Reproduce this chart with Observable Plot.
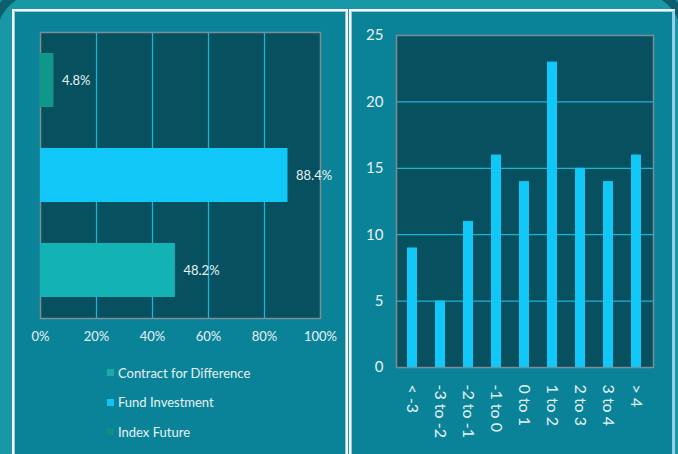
<!DOCTYPE html>
<html>
<head>
<meta charset="utf-8">
<script src="https://cdn.jsdelivr.net/npm/d3@7"></script>
<script src="https://cdn.jsdelivr.net/npm/@observablehq/plot@0.6"></script>
<style>
  html, body { margin: 0; padding: 0; }
  body { width: 678px; height: 454px; overflow: hidden; position: relative; background: #1898a6; font-family: Lato, "Open Sans", sans-serif; }
  .arc { position: absolute; border: 9px solid #0d5f6e; width: 800px; height: 800px; }
  .arc.tl { left: -12px; top: -16px; border-top-left-radius: 52px; }
  .arc.tr { right: -12px; top: -16px; border-top-right-radius: 52px; }
  .panel { position: absolute; top: 9px; height: 470px; background: #0a8399; border: 2px solid #f3f7f9; box-shadow: inset 0 0 0 1px #9fc4dc; box-sizing: border-box; }
  #pl { left: 12px; width: 336px; }
  #pr { left: 349px; width: 326px; border-right-color: #8fd3ee; }
  .chart { position: absolute; }
  #left { left: 14px; top: 11px; }
  #right { left: 351px; top: 11px; }
  #legend { position: absolute; left: 107px; top: 358px; color: #e6f2f4; font-size: 13px; }
  #legend .row { height: 29.5px; display: flex; align-items: center; }
  #legend .sw { width: 7px; height: 7px; margin-right: 4px; }
</style>
</head>
<body>
<div class="arc tl"></div>
<div class="arc tr"></div>
<div class="panel" id="pl"></div>
<div class="panel" id="pr"></div>
<div class="chart" id="left"></div>
<div id="legend"></div>
<div class="chart" id="right"></div>
<script>
// Left chart: product shares
const products = ["Contract for Difference", "Fund Investment", "Index Future"];
const shares = [48.2, 88.4, 4.8];
const productColors = ["#13b2b4", "#10c7f7", "#0f978b"];
const legendColors = ["#1aa9a8", "#12c4f3", "#128b80"];
const shareTicks = [0, 20, 40, 60, 80, 100];

// Right chart: distribution
const bins = ["< -3", "-3 to -2", "-2 to -1", "-1 to 0", "0 to 1", "1 to 2", "2 to 3", "3 to 4", "> 4"];
const counts = [9, 5, 11, 16, 14, 23, 15, 14, 16];
const countTicks = [0, 5, 10, 15, 20, 25];

const txt = "#e6f2f4";
const plotBg = "#06505f";
const grid = "#1fb3d6";
const frameC = "#7b8e95";

const shareData = products.map((p, i) => ({product: p, value: shares[i], color: productColors[i]}));

const left = Plot.plot({
  width: 331, height: 345,
  marginLeft: 26, marginRight: 25, marginTop: 21, marginBottom: 38,
  style: {background: "transparent", color: txt, fontFamily: "Lato, 'Open Sans', sans-serif", fontSize: "13px"},
  x: {domain: [0, 100], ticks: shareTicks, tickFormat: d => d + "%", tickSize: 0, tickPadding: 13, label: null},
  y: {domain: products.slice().reverse(), paddingInner: 0.43, paddingOuter: 0.215, axis: null},
  color: {type: "identity"},
  marks: [
    Plot.frame({fill: plotBg, stroke: null}),
    Plot.ruleX(shareTicks.slice(1, -1), {stroke: grid, strokeWidth: 1.3}),
    Plot.frame({stroke: frameC, strokeWidth: 1.5}),
    Plot.barX(shareData, {x: "value", y: "product", fill: "color"}),
    Plot.text(shareData, {x: "value", y: "product", text: d => d.value + "%", dx: 8, textAnchor: "start", fill: txt, fontSize: 13})
  ]
});
document.getElementById("left").appendChild(left);

const legend = document.getElementById("legend");
products.forEach((p, i) => {
  const row = document.createElement("div");
  row.className = "row";
  const sw = document.createElement("span");
  sw.className = "sw";
  sw.style.background = legendColors[i];
  const t = document.createElement("span");
  t.textContent = p;
  row.appendChild(sw); row.appendChild(t);
  legend.appendChild(row);
});

const countData = bins.map((b, i) => ({bin: b, value: counts[i]}));

const right = Plot.plot({
  width: 321, height: 443,
  marginLeft: 45, marginRight: 19, marginTop: 24, marginBottom: 87,
  style: {background: "transparent", color: txt, fontFamily: "Lato, 'Open Sans', sans-serif", fontSize: "15px"},
  x: {domain: bins, paddingInner: 0.63, paddingOuter: 0.315, tickSize: 0, tickPadding: 17, tickRotate: 90, label: null},
  y: {domain: [0, 25], ticks: countTicks, tickSize: 0, tickPadding: 13, label: null},
  marks: [
    Plot.frame({fill: plotBg, stroke: null}),
    Plot.ruleY(countTicks.slice(1, -1), {stroke: grid, strokeWidth: 1.3}),
    Plot.frame({stroke: frameC, strokeWidth: 1.5}),
    Plot.barY(countData, {x: "bin", y: "value", fill: "#10c7f7"}),
    Plot.axisX({tickSize: 0, tickPadding: 17, tickRotate: 90, fontSize: 16, label: null})
  ]
});
document.getElementById("right").appendChild(right);
</script>
</body>
</html>
